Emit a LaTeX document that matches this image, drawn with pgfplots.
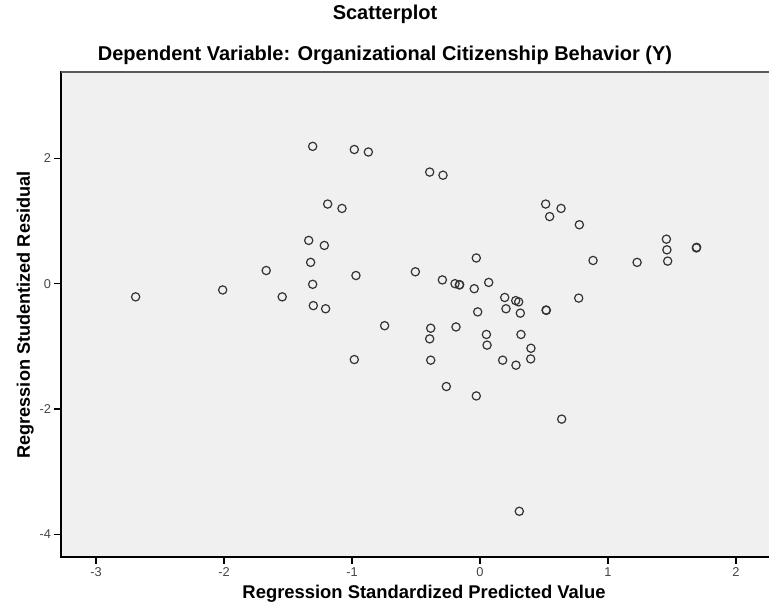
\documentclass[border=0pt]{standalone}
\usepackage{fontspec}
\setmainfont{Liberation Sans}
\usepackage{pgfplots}
\pgfplotsset{compat=1.18}
\definecolor{spssbg}{HTML}{F0F0F0}
\definecolor{ptcol}{HTML}{333333}
\definecolor{tickcol}{HTML}{444444}
\begin{document}
\begin{tikzpicture}
% the original chart is cut off at the right, just past x = 2.2
\clip (-45.75pt,-43.5pt) rectangle (531pt,417.75pt);

\begin{axis}[
  at={(0pt,0pt)}, anchor=south west,
  scale only axis,
  width=544.5pt, height=363.75pt,
  xmin=-3.273, xmax=2.398,
  ymin=-4.359, ymax=3.376,
  xtick={-3,-2,-1,0,1,2},
  ytick={-4,-2,0,2},
  tick pos=left,
  xtick align=outside, ytick align=outside,
  major tick length=5pt,
  every tick/.style={black, line width=0.9pt},
  axis line style={black, line width=0.9pt},
  axis background/.style={fill=spssbg},
  /pgf/number format/assume math mode=true,
  ticklabel style={font=\fontsize{9.6}{11}\selectfont, text=tickcol},
  xticklabel style={yshift=0.5pt},
  yticklabel style={xshift=1pt},
]
\addplot[only marks, mark=o, mark size=3.1pt, mark options={draw=ptcol, line width=0.9pt}]
  coordinates {
  (-2.69,-0.21) (-2.01,-0.10) (-1.67,0.21) (-1.545,-0.21)
  (-1.307,2.19) (-1.19,1.27) (-1.078,1.20) (-1.338,0.69)
  (-1.216,0.61) (-1.323,0.34) (-1.307,-0.01) (-1.302,-0.35)
  (-1.206,-0.40) (-0.982,2.14) (-0.872,2.10) (-0.393,1.78)
  (-0.289,1.73) (0.513,1.27) (0.633,1.20) (0.544,1.07)
  (0.776,0.94) (1.456,0.71) (1.46,0.54) (1.466,0.36)
  (1.69,0.57) (1.692,0.58) (0.883,0.37) (1.227,0.34)
  (-0.029,0.41) (-0.505,0.19) (-0.969,0.13) (-0.294,0.06)
  (-0.195,0.00) (-0.161,-0.02) (-0.159,-0.015) (-0.045,-0.08)
  (0.068,0.02) (0.193,-0.22) (0.279,-0.27) (0.302,-0.29)
  (0.203,-0.40) (0.315,-0.47) (0.516,-0.42) (0.518,-0.425)
  (0.771,-0.23) (-0.018,-0.45) (-0.745,-0.67) (-0.385,-0.71)
  (-0.1875,-0.69) (0.05,-0.81) (0.32,-0.81) (-0.393,-0.88)
  (0.055,-0.98) (0.398,-1.03) (0.396,-1.20) (0.177,-1.22)
  (0.281,-1.30) (-0.982,-1.21) (-0.385,-1.22) (-0.263,-1.64)
  (-0.029,-1.79) (0.638,-2.16) (0.307,-3.63)
  };
\coordinate (nw) at (rel axis cs:0,1);
\coordinate (ne) at (rel axis cs:1,1);
\end{axis}
% top frame line is a little lighter in the original
\draw[line width=0.9pt, color=black!65] (nw) -- (ne);

% titles and labels, placed in px*0.75 from the plot's lower left corner
\node[anchor=base, font=\bfseries\fontsize{15}{17}\selectfont] at (243pt,402.75pt) {Scatterplot};
\node[anchor=base, font=\bfseries\fontsize{15}{17}\selectfont] at (243pt,372pt) {Dependent Variable: Organizational Citizenship Behavior (Y)};
\node[anchor=base, font=\bfseries\fontsize{13.8}{16}\selectfont] at (272.25pt,-31.5pt) {Regression Standardized Predicted Value};
\node[anchor=base, rotate=90, font=\bfseries\fontsize{13.6}{16}\selectfont] at (-23.25pt,181.5pt) {Regression Studentized Residual};
\end{tikzpicture}
\end{document}
